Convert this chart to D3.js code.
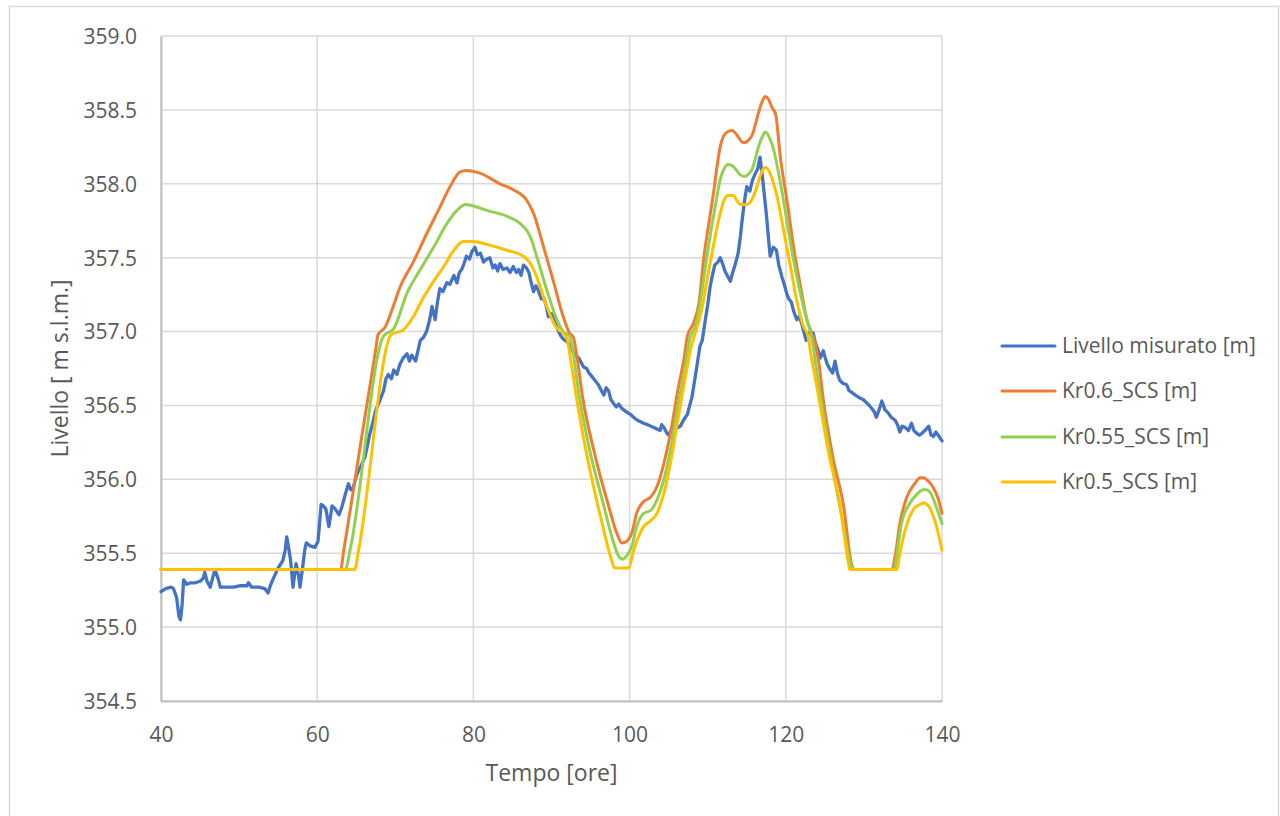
<!DOCTYPE html>
<html><head><meta charset="utf-8">
<script src="https://cdn.jsdelivr.net/npm/d3@7"></script>
<style>body{margin:0;background:#fff}svg{display:block}text{font-family:"Open Sans",sans-serif;fill:#595959}</style>
</head><body><svg id="c" width="1280" height="816"></svg>
<script>
const xTicks = [40, 60, 80, 100, 120, 140];
const yTicks = [354.5, 355.0, 355.5, 356.0, 356.5, 357.0, 357.5, 358.0, 358.5, 359.0];
const seriesNames = ["Livello misurato [m]", "Kr0.6_SCS [m]", "Kr0.55_SCS [m]", "Kr0.5_SCS [m]"];
const seriesColors = ["#4472C4", "#ED7D31", "#92D050", "#FFC000"];

const measured = [[40.0,355.24],[40.6,355.26],[41.3,355.27],[41.6,355.26],[42.0,355.20],[42.3,355.07],[42.5,355.05],[42.7,355.15],[42.9,355.32],[43.3,355.29],[43.8,355.30],[44.4,355.30],[45.0,355.31],[45.4,355.33],[45.6,355.37],[45.9,355.31],[46.3,355.27],[46.6,355.33],[46.9,355.39],[47.3,355.33],[47.6,355.27],[48.5,355.27],[49.3,355.27],[50.2,355.28],[51.0,355.28],[51.2,355.30],[51.6,355.27],[52.5,355.27],[53.3,355.26],[53.7,355.23],[54.0,355.28],[54.3,355.32],[55.0,355.40],[55.6,355.45],[55.9,355.52],[56.1,355.61],[56.3,355.55],[56.6,355.45],[56.9,355.27],[57.1,355.35],[57.3,355.43],[57.6,355.35],[57.8,355.27],[58.0,355.35],[58.2,355.43],[58.4,355.52],[58.6,355.57],[59.1,355.55],[59.7,355.54],[60.1,355.58],[60.3,355.70],[60.5,355.83],[60.8,355.82],[61.1,355.80],[61.5,355.68],[61.9,355.82],[62.3,355.80],[62.8,355.76],[63.2,355.82],[63.6,355.90],[64.0,355.97],[64.3,355.93],[64.6,355.94],[65.0,356.02],[65.3,356.06],[65.7,356.10],[66.1,356.15],[66.4,356.22],[66.7,356.30],[67.1,356.38],[67.5,356.47],[68.0,356.53],[68.5,356.60],[68.8,356.68],[69.1,356.71],[69.5,356.68],[69.8,356.74],[70.2,356.71],[70.6,356.78],[71.0,356.82],[71.5,356.85],[71.8,356.80],[72.1,356.84],[72.6,356.80],[72.9,356.87],[73.2,356.94],[73.6,356.96],[74.0,357.00],[74.4,357.08],[74.7,357.17],[75.1,357.08],[75.4,357.20],[75.7,357.29],[76.1,357.27],[76.6,357.33],[77.0,357.32],[77.5,357.38],[77.9,357.33],[78.2,357.40],[78.5,357.42],[78.8,357.46],[79.1,357.51],[79.5,357.49],[79.8,357.54],[80.2,357.57],[80.5,357.52],[80.9,357.53],[81.3,357.47],[81.7,357.49],[82.1,357.50],[82.5,357.43],[82.8,357.45],[83.1,357.41],[83.4,357.46],[83.8,357.42],[84.3,357.43],[84.7,357.40],[85.1,357.44],[85.5,357.40],[85.8,357.42],[86.1,357.38],[86.4,357.45],[86.8,357.43],[87.1,357.40],[87.4,357.33],[87.7,357.27],[88.0,357.31],[88.3,357.28],[88.7,357.22],[89.0,357.23],[89.3,357.18],[89.6,357.10],[90.0,357.12],[90.3,357.08],[90.6,357.04],[90.9,357.00],[91.2,356.97],[91.5,356.95],[92.0,356.93],[92.4,356.91],[92.8,356.86],[93.1,356.84],[93.5,356.82],[93.8,356.79],[94.1,356.76],[94.5,356.75],[94.8,356.72],[95.1,356.70],[95.4,356.68],[95.7,356.66],[96.0,356.64],[96.4,356.60],[96.7,356.57],[97.0,356.62],[97.3,356.60],[97.6,356.54],[98.0,356.51],[98.3,356.49],[98.6,356.51],[99.0,356.48],[99.5,356.46],[100.1,356.44],[100.5,356.42],[101.0,356.40],[101.4,356.39],[101.8,356.38],[102.3,356.37],[102.7,356.36],[103.1,356.35],[103.5,356.34],[103.9,356.33],[104.1,356.37],[104.4,356.35],[104.6,356.33],[104.8,356.31],[105.0,356.30],[105.3,356.33],[105.6,356.35],[105.9,356.37],[106.2,356.35],[106.5,356.36],[106.9,356.40],[107.4,356.44],[107.7,356.50],[108.0,356.56],[108.3,356.66],[108.6,356.76],[109.0,356.90],[109.3,356.94],[109.7,357.08],[110.0,357.18],[110.3,357.30],[110.6,357.38],[110.9,357.45],[111.3,357.47],[111.6,357.50],[111.9,357.46],[112.2,357.41],[112.5,357.38],[112.9,357.34],[113.2,357.40],[113.5,357.45],[113.9,357.53],[114.2,357.65],[114.4,357.75],[114.7,357.88],[115.0,357.98],[115.4,357.95],[115.7,358.02],[116.1,358.07],[116.4,358.10],[116.7,358.18],[117.0,358.05],[117.2,357.95],[117.5,357.80],[117.8,357.62],[118.0,357.51],[118.4,357.57],[118.8,357.55],[119.1,357.45],[119.5,357.37],[119.8,357.32],[120.1,357.26],[120.4,357.22],[120.7,357.20],[121.0,357.14],[121.4,357.08],[121.7,357.10],[122.0,357.06],[122.3,357.00],[122.6,356.94],[122.9,356.99],[123.2,357.00],[123.5,356.99],[123.8,356.92],[124.1,356.88],[124.4,356.82],[124.8,356.87],[125.0,356.83],[125.3,356.78],[125.6,356.75],[126.0,356.72],[126.3,356.80],[126.6,356.72],[126.9,356.67],[127.3,356.65],[127.8,356.64],[128.1,356.60],[128.4,356.59],[128.9,356.57],[129.5,356.55],[129.9,356.54],[130.3,356.52],[130.7,356.50],[131.0,356.48],[131.3,356.46],[131.6,356.42],[132.0,356.48],[132.3,356.53],[132.7,356.47],[133.1,356.45],[133.5,356.42],[134.0,356.40],[134.3,356.37],[134.6,356.32],[134.9,356.36],[135.3,356.35],[135.7,356.33],[136.1,356.38],[136.4,356.33],[136.8,356.31],[137.1,356.30],[137.4,356.31],[137.8,356.33],[138.3,356.36],[138.6,356.30],[138.9,356.29],[139.2,356.32],[139.5,356.30],[140.0,356.26]];

const kr060 = [[40,355.39],[63.0,355.39],[63.4,355.52],[64.5,355.88],[65.5,356.22],[66.5,356.55],[67.5,356.88],[67.8,356.98],[68.7,357.03],[69.6,357.15],[70.6,357.30],[72.3,357.47],[74.0,357.66],[75.7,357.84],[77.0,357.98],[78.3,358.08],[79.1,358.09],[80.9,358.07],[83.4,358.00],[85.1,357.96],[86.8,357.89],[87.7,357.80],[89.0,357.57],[90.3,357.33],[91.5,357.10],[92.3,356.99],[92.8,356.96],[93.2,356.85],[94.0,356.55],[95.4,356.20],[96.2,356.03],[97.1,355.86],[98.4,355.63],[99.0,355.57],[99.6,355.58],[100.3,355.64],[100.9,355.77],[101.8,355.85],[102.7,355.88],[103.5,355.95],[104.4,356.11],[105.3,356.33],[106.1,356.58],[107.0,356.83],[107.4,356.97],[108.2,357.06],[108.9,357.20],[109.5,357.50],[110.2,357.75],[110.8,357.96],[111.2,358.12],[111.6,358.25],[112.0,358.32],[112.5,358.35],[113.1,358.36],[113.6,358.34],[114.0,358.31],[114.5,358.28],[114.8,358.28],[115.3,358.30],[115.7,358.33],[116.1,358.40],[116.5,358.48],[117.0,358.56],[117.4,358.59],[117.8,358.57],[118.2,358.52],[118.7,358.47],[119.3,358.18],[120.2,357.87],[121.0,357.57],[121.9,357.30],[122.7,357.08],[123.3,356.99],[123.6,356.95],[124.2,356.80],[124.8,356.54],[126.1,356.13],[127.4,355.82],[128.4,355.43],[128.8,355.39],[133.6,355.39],[134.0,355.48],[134.6,355.70],[135.5,355.88],[136.5,355.97],[137.2,356.01],[137.6,356.01],[138.2,355.99],[138.7,355.96],[139.5,355.87],[140,355.77]];

const kr055 = [[40,355.39],[63.6,355.39],[64.2,355.52],[68.5,356.97],[69.8,357.02],[71.5,357.26],[73.2,357.42],[74.9,357.57],[76.6,357.73],[77.9,357.82],[79.0,357.86],[80.0,357.85],[81.7,357.82],[84.3,357.78],[86.0,357.73],[87.3,357.64],[88.1,357.51],[89.4,357.28],[90.7,357.08],[91.5,357.00],[92.3,356.97],[92.7,356.88],[93.5,356.58],[94.8,356.22],[96.6,355.84],[97.9,355.58],[98.6,355.48],[99.1,355.46],[99.6,355.48],[100.3,355.55],[100.9,355.68],[101.8,355.77],[102.7,355.79],[103.5,355.86],[104.4,356.00],[105.3,356.22],[106.1,356.47],[107.0,356.72],[107.7,356.95],[108.5,357.05],[109.2,357.25],[109.9,357.51],[111.1,357.89],[111.6,358.03],[112.0,358.09],[112.6,358.13],[113.2,358.12],[113.7,358.09],[114.2,358.06],[114.8,358.05],[115.3,358.07],[115.7,358.10],[116.1,358.17],[116.5,358.25],[117.0,358.32],[117.4,358.35],[118.0,358.30],[118.5,358.22],[118.9,358.12],[119.7,357.89],[120.6,357.60],[121.7,357.30],[122.7,357.08],[123.2,356.99],[123.5,356.90],[124.1,356.68],[124.8,356.45],[126.0,356.07],[127.2,355.74],[128.2,355.45],[128.6,355.39],[133.9,355.39],[134.3,355.52],[134.8,355.70],[135.9,355.84],[136.8,355.90],[137.6,355.93],[138.0,355.93],[138.5,355.91],[139.3,355.81],[140,355.70]];

const kr050 = [[40,355.39],[64.8,355.39],[65.3,355.52],[69.5,356.98],[71.0,357.01],[72.3,357.10],[73.6,357.23],[74.9,357.34],[76.2,357.44],[77.5,357.55],[78.7,357.61],[80.0,357.61],[81.7,357.59],[84.3,357.55],[86.4,357.51],[87.3,357.46],[88.1,357.37],[89.4,357.17],[90.7,357.02],[91.5,356.99],[92.0,356.95],[92.4,356.83],[93.3,356.52],[94.7,356.12],[96.4,355.72],[97.6,355.47],[98.1,355.40],[99.9,355.40],[100.4,355.50],[100.9,355.58],[101.8,355.68],[102.7,355.72],[103.5,355.77],[104.4,355.91],[105.3,356.13],[106.1,356.38],[107.0,356.65],[107.9,356.90],[108.4,356.99],[109.1,357.12],[110.3,357.46],[111.6,357.80],[112.1,357.89],[112.6,357.92],[113.3,357.92],[113.8,357.88],[114.2,357.86],[115.0,357.86],[115.5,357.88],[115.9,357.92],[116.3,357.98],[116.7,358.05],[117.1,358.10],[117.4,358.11],[118.0,358.07],[118.5,357.99],[118.9,357.91],[119.7,357.69],[120.6,357.44],[121.4,357.21],[122.3,357.03],[122.8,356.98],[123.2,356.85],[123.9,356.65],[125.6,356.15],[126.9,355.84],[127.5,355.62],[128.0,355.44],[128.2,355.39],[134.2,355.39],[134.6,355.50],[135.3,355.66],[136.4,355.80],[137.2,355.83],[137.6,355.84],[138.1,355.83],[138.9,355.75],[139.5,355.64],[140,355.52]];

const seriesData = [measured, kr060, kr055, kr050];

const svg = d3.select("#c");
svg.append("rect").attr("width",1280).attr("height",816).attr("fill","#fff");
svg.append("rect").attr("x",9.5).attr("y",6.5).attr("width",1269).attr("height",830)
  .attr("fill","none").attr("stroke","#d9d9d9").attr("stroke-width",1.5);

const L=161, R=942, T=36, B=701;
const x = d3.scaleLinear().domain([40,140]).range([L,R]);
const y = d3.scaleLinear().domain([354.5,359]).range([B,T]);

// gridlines
const g = svg.append("g");
g.selectAll(".hg").data(yTicks).join("line")
  .attr("x1",L).attr("x2",R).attr("y1",d=>y(d)).attr("y2",d=>y(d))
  .attr("stroke","#d9d9d9").attr("stroke-width",1.5);
g.selectAll(".vg").data(xTicks).join("line")
  .attr("y1",T).attr("y2",B).attr("x1",d=>x(d)).attr("x2",d=>x(d))
  .attr("stroke","#d9d9d9").attr("stroke-width",1.5);

// axes
const xAxis = d3.axisBottom(x).tickValues(xTicks).tickSize(0).tickPadding(26).tickFormat(d3.format("d"));
const yAxis = d3.axisLeft(y).tickValues(yTicks).tickSize(0).tickPadding(24).tickFormat(d3.format(".1f"));
const gx = svg.append("g").attr("transform",`translate(0,${B})`).call(xAxis);
const gy = svg.append("g").attr("transform",`translate(${L},0)`).call(yAxis);
[gx,gy].forEach(a=>{a.select(".domain").attr("stroke","#bfbfbf").attr("stroke-width",2);
  a.selectAll("text").style("font-size","21px").attr("fill","#595959").style("font-family","'Open Sans',sans-serif");});
gy.selectAll("text").attr("dy","0.35em");

// series
const line = d3.line().x(d=>x(d[0])).y(d=>y(d[1]));
seriesData.forEach((s,i)=>{
  svg.append("path").datum(s).attr("fill","none").attr("stroke",seriesColors[i])
    .attr("stroke-width",i===0?3.3:3).attr("stroke-linejoin","round").attr("stroke-linecap","round")
    .attr("d",line.curve(i===0?d3.curveLinear:d3.curveMonotoneX));
});

// axis titles
svg.append("text").attr("x",(L+R)/2).attr("y",781).attr("text-anchor","middle")
  .style("font-size","23px").text("Tempo [ore]");
svg.append("text").attr("transform",`translate(68,${(T+B)/2}) rotate(-90)`).attr("text-anchor","middle")
  .style("font-size","23px").text("Livello [ m s.l.m.]");

// legend
const lg = svg.append("g");
const legY = [346, 391, 437, 482];
seriesNames.forEach((n,i)=>{
  lg.append("line").attr("x1",1002).attr("x2",1055).attr("y1",legY[i]).attr("y2",legY[i])
    .attr("stroke",seriesColors[i]).attr("stroke-width",3).attr("stroke-linecap","round");
  lg.append("text").attr("x",1062).attr("y",legY[i]).attr("dy","0.35em").style("font-size","21px").text(n);
});
</script></body></html>
